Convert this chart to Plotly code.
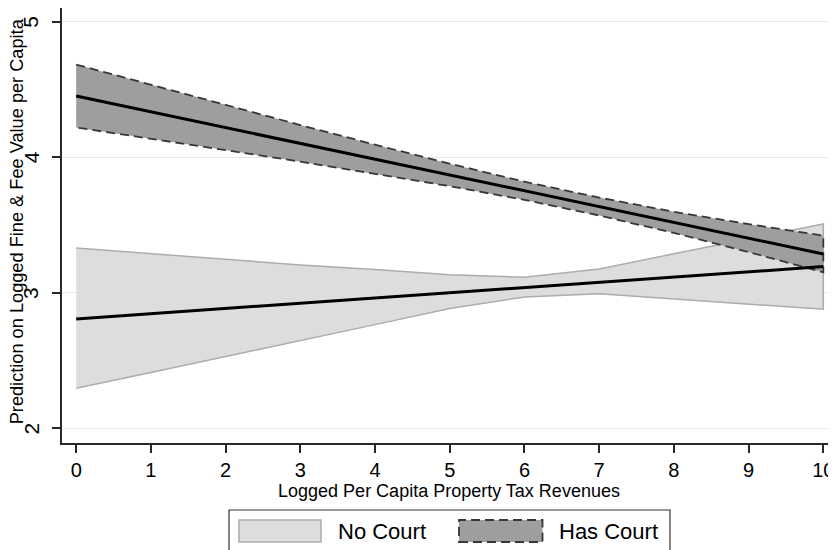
import plotly.graph_objects as go

# ---- data ----
x_vals = [0, 1, 2, 3, 4, 5, 6, 7, 8, 9, 10]

no_court_pred = [2.808, 2.847, 2.885, 2.924, 2.962, 3.001, 3.040, 3.078, 3.117, 3.155, 3.194]
no_court_upper = [3.331, 3.290, 3.248, 3.206, 3.172, 3.134, 3.115, 3.176, 3.288, 3.398, 3.508]
no_court_lower = [2.296, 2.413, 2.530, 2.647, 2.766, 2.885, 2.970, 2.993, 2.955, 2.917, 2.879]

has_court_pred = [4.452, 4.336, 4.219, 4.103, 3.986, 3.870, 3.753, 3.637, 3.520, 3.404, 3.287]
has_court_upper = [4.684, 4.534, 4.385, 4.238, 4.093, 3.953, 3.820, 3.703, 3.598, 3.507, 3.422]
has_court_lower = [4.220, 4.138, 4.053, 3.968, 3.879, 3.787, 3.686, 3.571, 3.442, 3.301, 3.152]

x_ticks = [0, 1, 2, 3, 4, 5, 6, 7, 8, 9, 10]
y_ticks = [2, 3, 4, 5]

series_names = ["No Court", "Has Court"]
x_title = "Logged Per Capita Property Tax Revenues"
y_title = "Prediction on Logged Fine & Fee Value per Capita"

# ---- styles ----
FONT = "Liberation Sans, Arial, Helvetica, sans-serif"
LIGHT_FILL = "rgb(221,221,221)"
LIGHT_EDGE = "rgb(172,172,172)"
DARK_FILL = "rgb(158,158,158)"
DARK_EDGE = "rgb(55,55,55)"
DASH = "9px,5px"

fig = go.Figure()

# confidence bands (closed polygons)
fig.add_trace(go.Scatter(
    x=x_vals + x_vals[::-1], y=no_court_upper + no_court_lower[::-1],
    fill="toself", fillcolor=LIGHT_FILL, mode="lines",
    line=dict(color=LIGHT_EDGE, width=1.5), name=series_names[0],
    showlegend=False, hoverinfo="skip"))
fig.add_trace(go.Scatter(
    x=x_vals + x_vals[::-1], y=has_court_upper + has_court_lower[::-1],
    fill="toself", fillcolor=DARK_FILL, mode="lines",
    line=dict(color=DARK_EDGE, width=1.8, dash=DASH), name=series_names[1],
    showlegend=False, hoverinfo="skip"))

# prediction lines
fig.add_trace(go.Scatter(x=x_vals, y=no_court_pred, mode="lines",
                         line=dict(color="black", width=3), showlegend=False))
fig.add_trace(go.Scatter(x=x_vals, y=has_court_pred, mode="lines",
                         line=dict(color="black", width=3), showlegend=False))

# ---- manual legend (box + swatches + text) ----
shapes = [
    dict(type="rect", xref="paper", yref="paper", x0=0.2158, x1=0.7855, y0=-0.262, y1=-0.154,
         line=dict(color="rgb(50,50,50)", width=1.2), fillcolor="white", layer="below"),
    dict(type="rect", xref="paper", yref="paper", x0=0.2287, x1=0.3346, y0=-0.2276, y1=-0.177,
         line=dict(color=LIGHT_EDGE, width=1.5), fillcolor=LIGHT_FILL),
    dict(type="rect", xref="paper", yref="paper", x0=0.5129, x1=0.6208, y0=-0.2276, y1=-0.177,
         line=dict(color=DARK_EDGE, width=1.8, dash=DASH), fillcolor=DARK_FILL),
]
annotations = [
    dict(xref="paper", yref="paper", x=0.354, y=-0.2023, text=series_names[0], showarrow=False,
         xanchor="left", yanchor="middle", font=dict(family=FONT, size=22, color="black")),
    dict(xref="paper", yref="paper", x=0.6395, y=-0.2023, text=series_names[1], showarrow=False,
         xanchor="left", yanchor="middle", font=dict(family=FONT, size=22, color="black")),
    dict(xref="paper", yref="paper", x=-0.0585, y=0.509, text=y_title, showarrow=False,
         textangle=-90, xanchor="center", yanchor="middle",
         font=dict(family=FONT, size=18.2, color="black")),
]
# rotated y tick labels (Stata style), placed on the y scale at the tick values
for t in y_ticks:
    annotations.append(dict(
        xref="paper", yref="y", x=-0.040, y=t, text=str(t), showarrow=False,
        textangle=-90, xanchor="center", yanchor="middle",
        font=dict(family=FONT, size=21, color="black")))

# page body has an 8px margin, so the figure is 8px smaller than the window
fig.update_layout(
    width=828, height=542,
    margin=dict(l=54, r=0, t=0, b=107, pad=0),
    paper_bgcolor="white", plot_bgcolor="white",
    font=dict(family=FONT, color="black"),
    shapes=shapes, annotations=annotations,
    showlegend=False,
)
fig.update_xaxes(
    range=[-0.19, 10.17], tickvals=x_ticks, ticktext=[str(t) for t in x_ticks],
    showgrid=False, zeroline=False, showline=True, linecolor="rgb(40,40,40)", linewidth=1.5,
    ticks="outside", ticklen=8, tickwidth=1.5, tickcolor="rgb(40,40,40)",
    tickfont=dict(family=FONT, size=20, color="black"),
    title=dict(text=x_title, font=dict(family=FONT, size=18, color="black"), standoff=4),
    automargin=False, fixedrange=True,
)
fig.update_yaxes(
    range=[1.893, 5.101], tickvals=y_ticks, showticklabels=False,
    showgrid=True, gridcolor="rgb(232,232,232)", gridwidth=1.2,
    zeroline=False, showline=True, linecolor="rgb(40,40,40)", linewidth=1.5,
    ticks="outside", ticklen=8, tickwidth=1.5, tickcolor="rgb(40,40,40)",
    automargin=False, fixedrange=True,
)

fig.write_html("out.html")
